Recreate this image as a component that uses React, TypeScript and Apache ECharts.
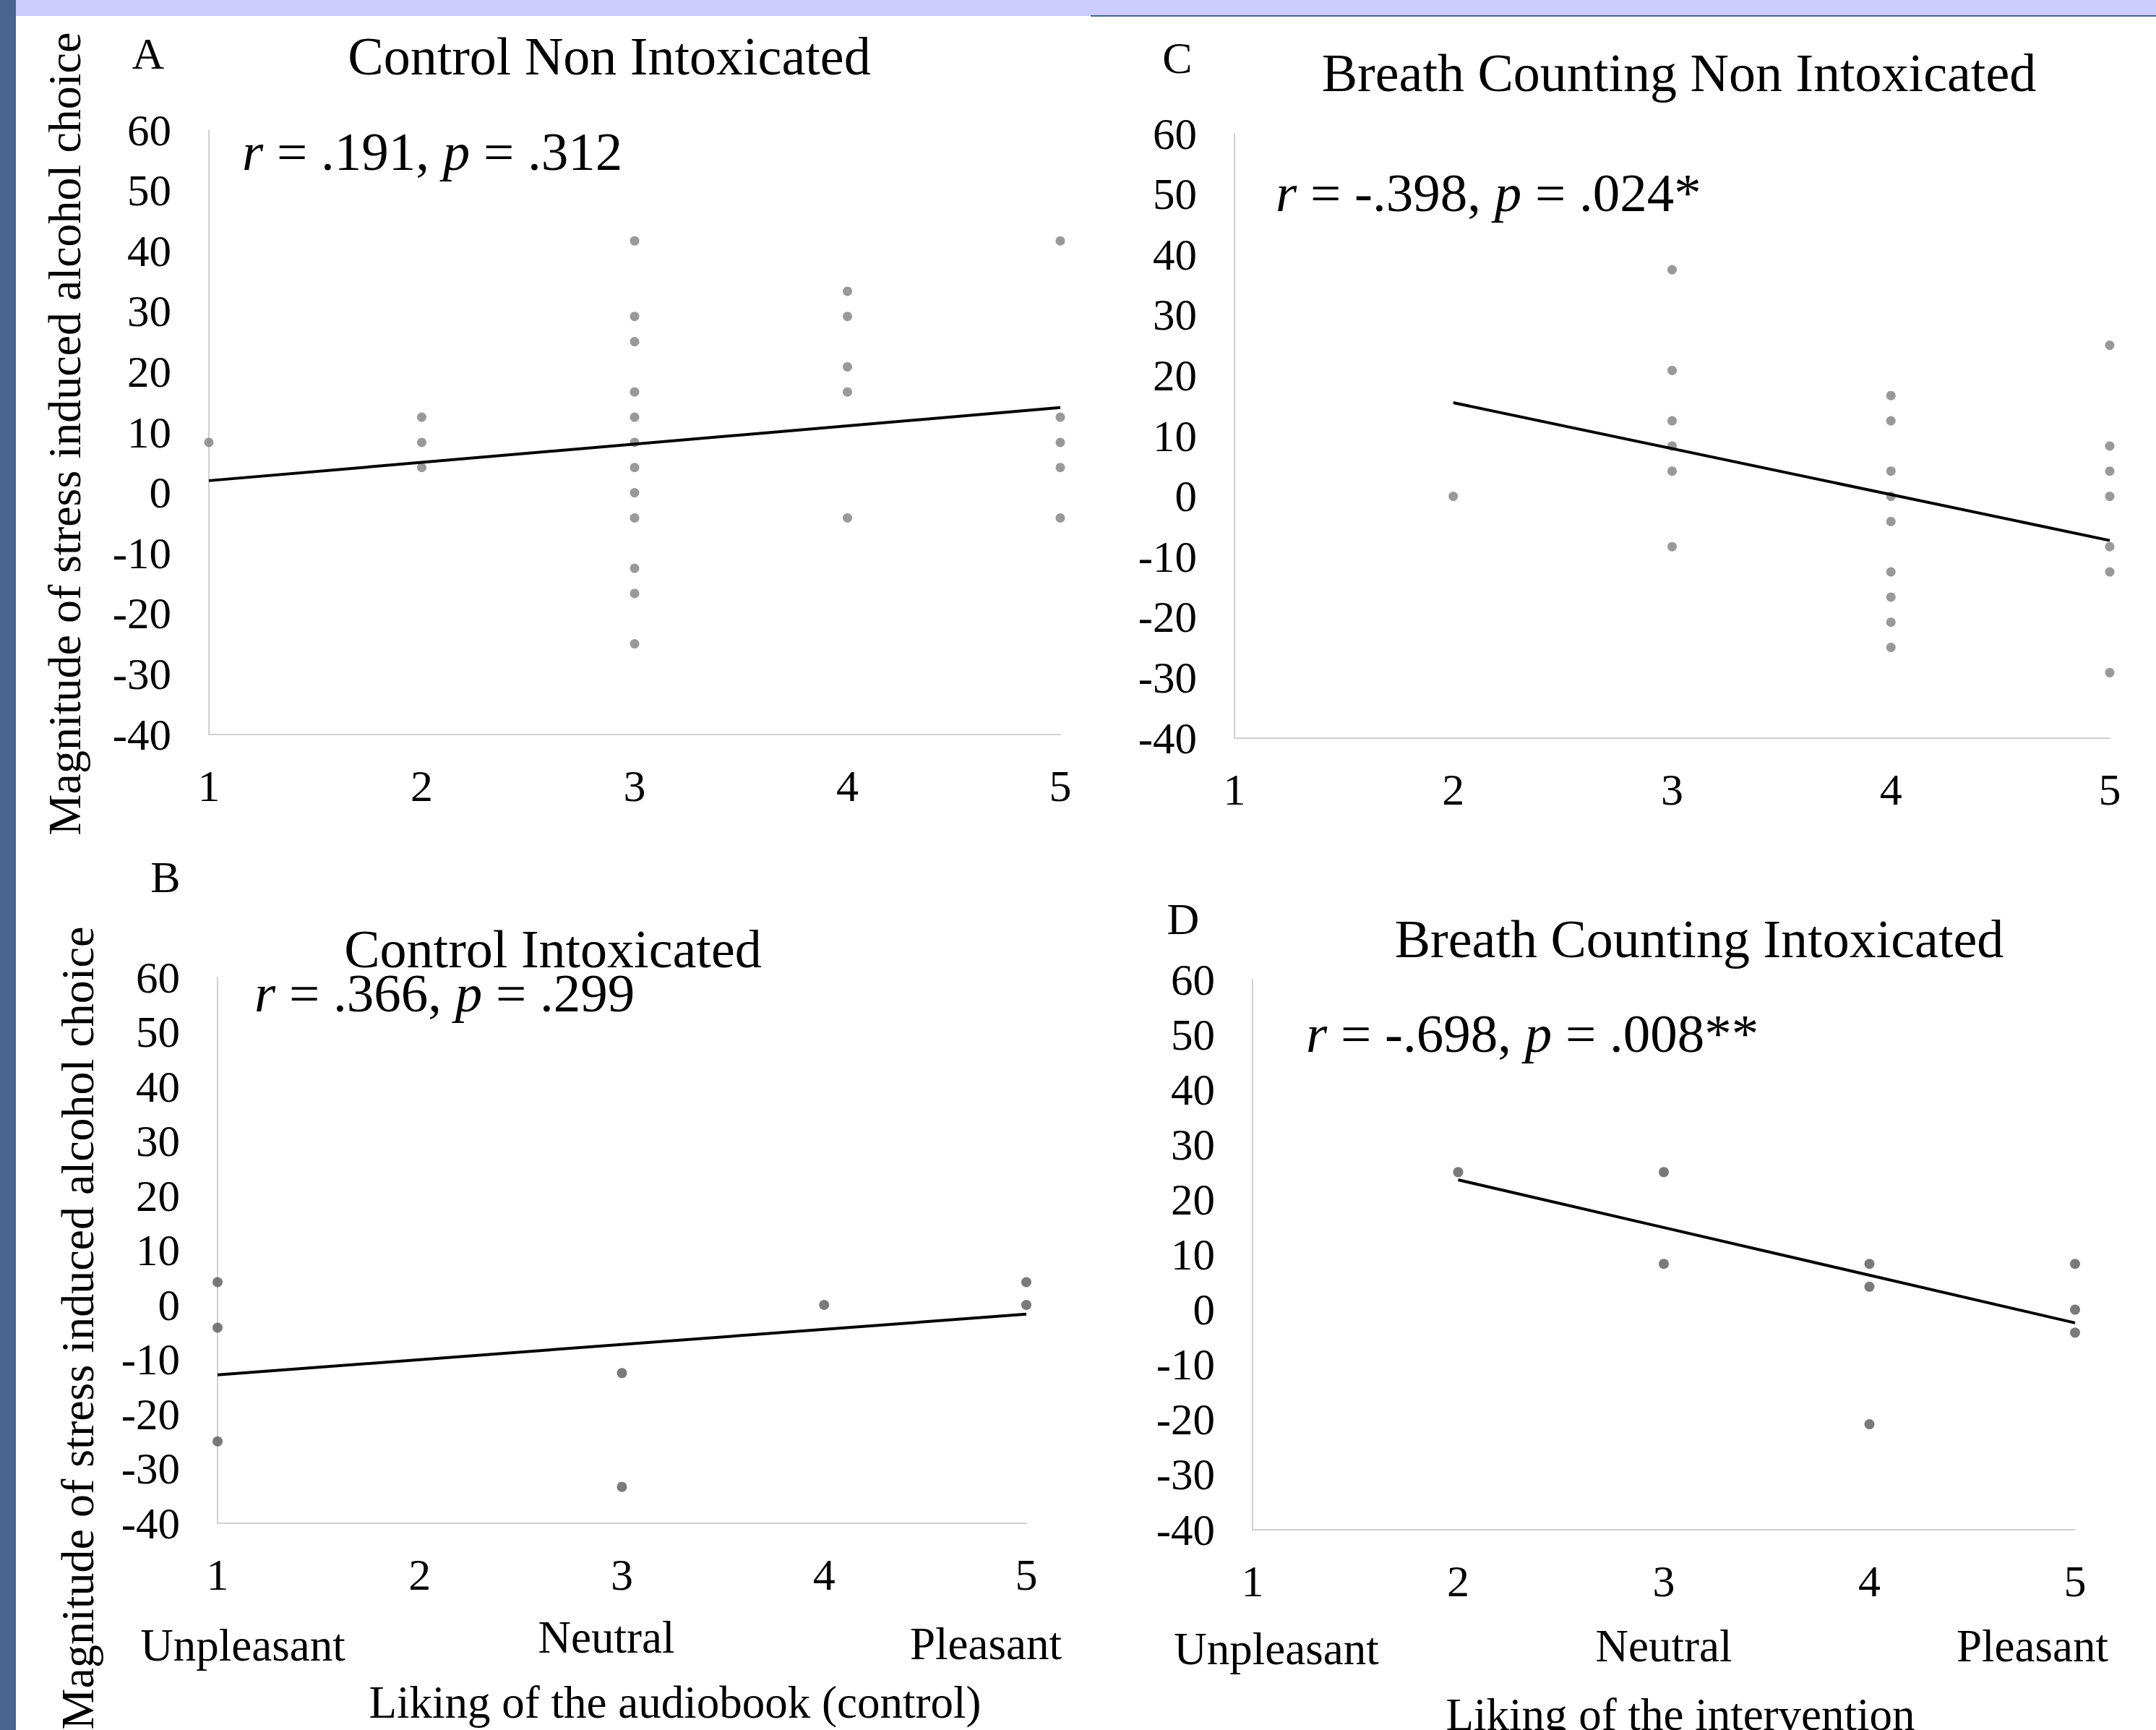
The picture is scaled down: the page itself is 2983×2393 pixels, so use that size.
import React, { useEffect, useRef } from "react";
import * as echarts from "echarts";

// ---------- Data ----------
const xTickValues = [1, 2, 3, 4, 5];
const yMin = -40;
const yMax = 60;

// Panel A: Control Non Intoxicated
const ctrlNonIntoxX = [1, 2, 2, 2, 3, 3, 3, 3, 3, 3, 3, 3, 3, 3, 3, 3, 4, 4, 4, 4, 4, 5, 5, 5, 5, 5];
const ctrlNonIntoxY = [8.33, 12.5, 8.33, 4.17, 41.67, 29.17, 25, 16.67, 12.5, 8.33, 4.17, 0, -4.17, -12.5, -16.67, -25, 33.33, 29.17, 20.83, 16.67, -4.17, 41.67, 12.5, 8.33, 4.17, -4.17];
const ctrlNonIntoxTrendX = [1, 5];
const ctrlNonIntoxTrendY = [2.0, 14.1];

// Panel C: Breath Counting Non Intoxicated
const breathNonIntoxX = [2, 3, 3, 3, 3, 3, 3, 4, 4, 4, 4, 4, 4, 4, 4, 4, 5, 5, 5, 5, 5, 5, 5];
const breathNonIntoxY = [0, 37.5, 20.83, 12.5, 8.33, 4.17, -8.33, 16.67, 12.5, 4.17, 0, -4.17, -12.5, -16.67, -20.83, -25, 25, 8.33, 4.17, 0, -8.33, -12.5, -29.17];
const breathNonIntoxTrendX = [2, 5];
const breathNonIntoxTrendY = [15.5, -7.3];

// Panel B: Control Intoxicated
const ctrlIntoxX = [1, 1, 1, 3, 3, 4, 5, 5];
const ctrlIntoxY = [4.17, -4.17, -25, -12.5, -33.33, 0, 4.17, 0];
const ctrlIntoxTrendX = [1, 5];
const ctrlIntoxTrendY = [-12.8, -1.7];

// Panel D: Breath Counting Intoxicated
const breathIntoxX = [2, 3, 3, 4, 4, 4, 5, 5, 5];
const breathIntoxY = [25, 25, 8.33, 8.33, 4.17, -20.83, 8.33, 0, -4.17];
const breathIntoxTrendX = [2, 5];
const breathIntoxTrendY = [23.6, -2.4];

// Texts
const panelLetters = ["A", "C", "B", "D"];
const panelTitles = [
  "Control Non Intoxicated",
  "Breath Counting Non Intoxicated",
  "Control Intoxicated",
  "Breath Counting Intoxicated",
];
const statTexts = [
  "{i|r} = .191, {i|p} = .312",
  "{i|r} = -.398, {i|p} = .024*",
  "{i|r} = .366, {i|p} = .299",
  "{i|r} = -.698, {i|p} = .008**",
];
const anchorLabels = ["Unpleasant", "Neutral", "Pleasant"];
const yAxisTitle = "Magnitude of stress induced alcohol choice";
const xAxisTitles = ["Liking of the audiobook (control)", "Liking of the intervention"];

const FONT = "Liberation Serif, Times New Roman, serif";

function zip(xs: number[], ys: number[]) {
  return xs.map((x, i) => [x, ys[i]]);
}

export default function App() {
  const ref = useRef<HTMLDivElement>(null);

  useEffect(() => {
    document.body.style.margin = "0";
    if (!ref.current) return;
    const chart = echarts.init(ref.current, null, { renderer: "svg" });

    const grids = [
      { left: 289, top: 180, width: 1467 - 289, height: 1016 - 180 },
      { left: 1708, top: 185, width: 2919 - 1708, height: 1021 - 185 },
      { left: 301, top: 1352, width: 1420 - 301, height: 2107 - 1352 },
      { left: 1733, top: 1355, width: 2871 - 1733, height: 2116 - 1355 },
    ];

    const scatterSets = [
      { x: ctrlNonIntoxX, y: ctrlNonIntoxY, tx: ctrlNonIntoxTrendX, ty: ctrlNonIntoxTrendY, color: "#7f7f7f", size: 13 },
      { x: breathNonIntoxX, y: breathNonIntoxY, tx: breathNonIntoxTrendX, ty: breathNonIntoxTrendY, color: "#7f7f7f", size: 13 },
      { x: ctrlIntoxX, y: ctrlIntoxY, tx: ctrlIntoxTrendX, ty: ctrlIntoxTrendY, color: "#595959", size: 14 },
      { x: breathIntoxX, y: breathIntoxY, tx: breathIntoxTrendX, ty: breathIntoxTrendY, color: "#595959", size: 14 },
    ];

    const axisLineStyle = { show: true, onZero: false, lineStyle: { color: "#d0d0d0", width: 2 } };

    const xAxes = grids.map((_, i) => ({
      type: "value",
      gridIndex: i,
      min: xTickValues[0],
      max: xTickValues[xTickValues.length - 1],
      interval: 1,
      axisLine: axisLineStyle,
      axisTick: { show: false },
      splitLine: { show: false },
      axisLabel: {
        fontFamily: FONT,
        fontSize: 62,
        color: "#000",
        margin: 40,
        formatter: (v: number) => String(v),
      },
    }));

    const yAxes = grids.map((_, i) => ({
      type: "value",
      gridIndex: i,
      min: yMin,
      max: yMax,
      interval: 10,
      axisLine: axisLineStyle,
      axisTick: { show: false },
      splitLine: { show: false },
      axisLabel: {
        fontFamily: FONT,
        fontSize: 61,
        color: "#000",
        margin: 52,
      },
    }));

    const series: any[] = [];
    scatterSets.forEach((s, i) => {
      series.push({
        type: "scatter",
        xAxisIndex: i,
        yAxisIndex: i,
        data: zip(s.x, s.y),
        symbol: "circle",
        symbolSize: s.size,
        itemStyle: { color: s.color },
        silent: true,
      });
      series.push({
        type: "line",
        xAxisIndex: i,
        yAxisIndex: i,
        data: zip(s.tx, s.ty),
        symbol: "none",
        lineStyle: { color: "#000", width: 4 },
        silent: true,
      });
    });

    const txt = (text: string, x: number, y: number, size: number, extra: any = {}) => ({
      type: "text",
      x,
      y,
      silent: true,
      ...extra,
      style: {
        text,
        fontFamily: FONT,
        fontSize: size,
        fill: "#000",
        align: extra.align || "center",
        verticalAlign: "middle",
        rich: { i: { fontStyle: "italic", fontFamily: FONT, fontSize: size, fill: "#000" } },
      },
    });

    const graphic: any[] = [
      { type: "rect", shape: { x: 22, y: 0, width: 2983 - 22, height: 22 }, style: { fill: "#ccccff" }, silent: true },
      { type: "rect", shape: { x: 1509, y: 21, width: 2983 - 1509, height: 2 }, style: { fill: "#4a6490" }, silent: true },
      { type: "rect", shape: { x: 0, y: 0, width: 22, height: 2393 }, style: { fill: "#4b6590" }, silent: true },
      // letters
      txt(panelLetters[0], 205, 74, 62),
      txt(panelLetters[1], 1629, 80, 62),
      txt(panelLetters[2], 229, 1213, 62),
      txt(panelLetters[3], 1637, 1271, 62),
      // titles
      txt(panelTitles[0], 843, 78, 74),
      txt(panelTitles[1], 2323, 101, 74),
      txt(panelTitles[2], 765, 1313, 74),
      txt(panelTitles[3], 2351, 1299, 74),
      // stats
      txt(statTexts[0], 335, 209, 75, { align: "left" }),
      txt(statTexts[1], 1765, 266, 75, { align: "left" }),
      txt(statTexts[2], 352, 1373, 75, { align: "left" }),
      txt(statTexts[3], 1807, 1429, 75, { align: "left" }),
      // anchor labels
      txt(anchorLabels[0], 336, 2276, 63),
      txt(anchorLabels[1], 839, 2265, 63),
      txt(anchorLabels[2], 1364, 2274, 63),
      txt(anchorLabels[0], 1766, 2281, 63),
      txt(anchorLabels[1], 2302, 2277, 63),
      txt(anchorLabels[2], 2812, 2277, 63),
      // x titles
      txt(xAxisTitles[0], 934, 2355, 63),
      txt(xAxisTitles[1], 2325, 2372, 63),
      // y titles
      txt(yAxisTitle, 89, 600, 64, { rotation: Math.PI / 2 }),
      txt(yAxisTitle, 107, 1837, 64, { rotation: Math.PI / 2 }),
    ];

    chart.setOption({
      animation: false,
      backgroundColor: "#ffffff",
      grid: grids,
      xAxis: xAxes,
      yAxis: yAxes,
      series,
      graphic,
    });

    return () => chart.dispose();
  }, []);

  return <div ref={ref} style={{ width: 2983, height: 2393 }} />;
}
